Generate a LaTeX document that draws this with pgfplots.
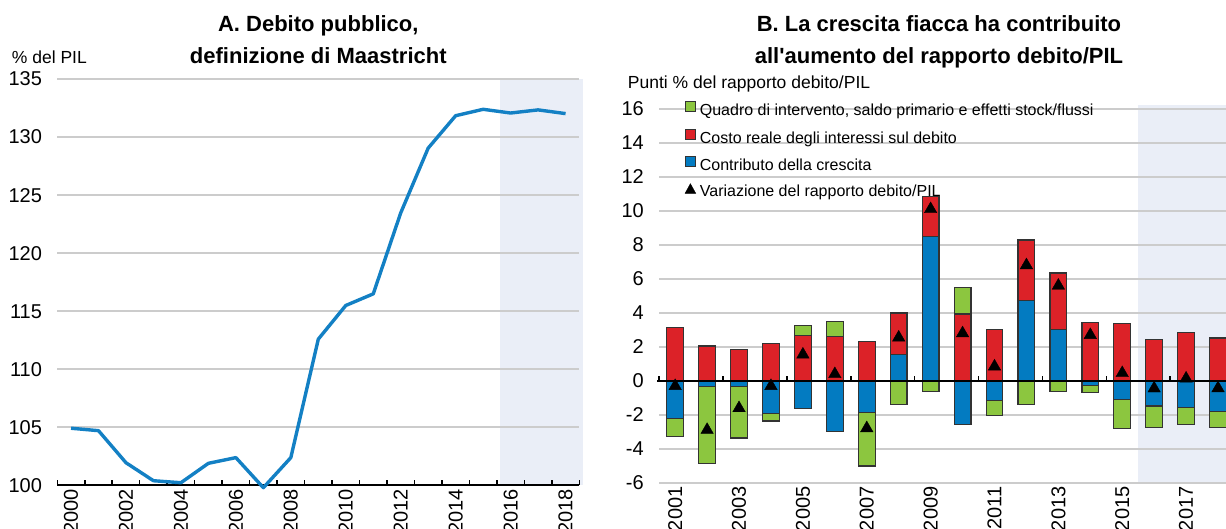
\documentclass[border=0pt]{standalone}
\usepackage{fontspec}
\setmainfont{Liberation Sans}
\newfontfamily\plainsans{Liberation Sans}[Ligatures=TeXOff]
\usepackage{pgfplots}
\usepackage{pgfplotstable}
\pgfplotsset{compat=1.18}
\definecolor{oblue}{HTML}{037BC1}
\definecolor{ored}{HTML}{DC2228}
\definecolor{ogreen}{HTML}{8CC63F}
\definecolor{lineblue}{HTML}{1380C4}
\definecolor{shadec}{HTML}{EAEEF7}
\definecolor{gridc}{HTML}{CCCCCC}
\definecolor{bdr}{HTML}{333333}

\pgfplotstableread{
year debt
2000 104.93
2001 104.72
2002 101.96
2003 100.41
2004 100.24
2005 101.91
2006 102.40
2007 99.81
2008 102.40
2009 112.6
2010 115.5
2011 116.5
2012 123.47
2013 129.05
2014 131.84
2015 132.39
2016 132.07
2017 132.34
2018 132.02
}\dataA

\pgfplotstableread{
year blueP red greenP blueN greenN change
2001 0 3.13 0 -2.22 -1.03 -0.3
2002 0 2.06 0 -0.34 -4.50 -2.88
2003 0 1.85 0 -0.34 -3.01 -1.6
2004 0 2.18 0 -1.92 -0.44 -0.3
2005 0 2.66 0.61 -1.63 0 1.55
2006 0 2.60 0.89 -2.98 0 0.4
2007 0 2.34 0 -1.87 -3.13 -2.78
2008 1.55 2.45 0 0 -1.37 2.55
2009 8.49 2.34 0 0 -0.63 10.1
2010 0 3.93 1.55 -2.58 0 2.8
2011 0 3.02 0 -1.13 -0.89 0.85
2012 4.72 3.57 0 0 -1.37 6.8
2013 3.02 3.33 0 0 -0.63 5.6
2014 0 3.43 0 -0.28 -0.39 2.7
2015 0 3.37 0 -1.08 -1.72 0.46
2016 0 2.45 0 -1.47 -1.27 -0.44
2017 0 2.85 0 -1.55 -1.01 0.14
2018 0 2.53 0 -1.82 -0.92 -0.43
}\dataB

\pgfplotsset{
  legpatch/.style={draw=bdr, line width=1pt, fill=#1,
    legend image code/.code={\draw[##1] (0pt,0pt) rectangle (10pt,10pt);}},
  legtri/.style={black,
    legend image code/.code={\fill[black] (0pt,-0.6pt) -- (10.6pt,-0.6pt) -- (5.3pt,9pt) -- cycle;}},
  ageom/.style={at={(57.3pt,43.5pt)}, anchor=south west, scale only axis,
    width=522pt, height=406.5pt, xmin=1999.5, xmax=2018.5, ymin=100, ymax=135},
  bgeom/.style={at={(659.2pt,46pt)}, anchor=south west, scale only axis,
    width=566.8pt, height=374.2pt, xmin=2000.5, xmax=2018.25, ymin=-6, ymax=16},
}

\begin{document}
\begin{tikzpicture}
\path[use as bounding box] (0pt,0pt) rectangle (1226pt,529pt);
\clip (0pt,0pt) rectangle (1226pt,529pt);

% ---------------- Panel A : shaded forecast band ----------------
\begin{axis}[ageom, hide axis, clip=false]
\fill[shadec] (axis cs:2015.6,100) rectangle (axis cs:2018.62,135);
\end{axis}

% ---------------- Panel A ----------------
\begin{axis}[
  ageom, clip=false,
  axis x line*=bottom, axis y line*=left,
  axis line style={-},
  y axis line style={draw=none},
  x axis line style={black, line width=2pt},
  tick align=inside,
  major tick length=5pt,
  xtick={1999.5,2000.5,2001.5,2002.5,2003.5,2004.5,2005.5,2006.5,2007.5,2008.5,2009.5,2010.5,2011.5,2012.5,2013.5,2014.5,2015.5,2016.5,2017.5,2018.5},
  xticklabels={},
  xtick style={black, line width=1.5pt},
  extra x ticks={2000,2002,2004,2006,2008,2010,2012,2014,2016,2018},
  extra x tick labels={2000,2002,2004,2006,2008,2010,2012,2014,2016,2018},
  extra x tick style={major tick length=0pt},
  xticklabel style={rotate=90, anchor=east, font=\fontsize{20}{20}\selectfont},
  ytick={100,105,110,115,120,125,130,135},
  yticklabels={100,105,110,115,120,125,130,135},
  ytick style={draw=none},
  yticklabel style={font=\fontsize{20}{20}\selectfont, xshift=-11.8pt},
  ymajorgrids, grid style={gridc, line width=2pt},
]
\addplot[lineblue, line width=3.4pt, line join=round] table[x=year,y=debt]{\dataA};
\end{axis}

% ---------------- Panel B : shaded forecast band ----------------
\begin{axis}[bgeom, hide axis, clip=false]
\fill[shadec] (axis cs:2015.5,-6) rectangle (axis cs:2018.3,16.2);
\end{axis}

% ---------------- Panel B : grid, labels, positive stacks ----------------
\begin{axis}[
  bgeom,
  axis line style={draw=none},
  major tick length=0pt,
  xtick={2001,2003,2005,2007,2009,2011,2013,2015,2017},
  xticklabels={2001,2003,2005,2007,2009,2011,2013,2015,2017},
  xticklabel style={rotate=90, anchor=east, font=\fontsize{20}{20}\selectfont},
  ytick={-6,-4,-2,0,2,4,6,8,10,12,14,16},
  yticklabels={-6,-4,-2,0,2,4,6,8,10,12,14,16},
  yticklabel style={font=\fontsize{20}{20}\selectfont, xshift=-11.9pt},
  ymajorgrids, grid style={gridc, line width=2pt},
  ybar stacked, bar width=16.7pt,
]
\addplot[fill=oblue, draw=bdr, line width=1.2pt, forget plot] table[x=year,y=blueP]{\dataB};
\addplot[fill=ored, draw=bdr, line width=1.2pt, forget plot] table[x=year,y=red]{\dataB};
\addplot[fill=ogreen, draw=bdr, line width=1.2pt, forget plot] table[x=year,y=greenP]{\dataB};
\end{axis}

% ---------------- Panel B : negative stacks ----------------
\begin{axis}[
  bgeom, hide axis,
  ybar stacked, bar width=16.7pt,
]
\addplot[fill=oblue, draw=bdr, line width=1.2pt, forget plot] table[x=year,y=blueN]{\dataB};
\addplot[fill=ogreen, draw=bdr, line width=1.2pt, forget plot] table[x=year,y=greenN]{\dataB};
\end{axis}

% ---------------- Panel B : zero line, triangles, legend ----------------
\begin{axis}[
  bgeom, hide axis, clip=false,
  legend style={draw=none, fill=none, at={(axis description cs:0.0448,1.0208)},
    anchor=north west, inner sep=0pt, outer sep=0pt,
    font=\fontsize{16}{19}\selectfont, row sep=9pt,
    nodes={inner sep=0pt, text height=12pt, text depth=4pt},
    /tikz/every odd column/.append style={column sep=4pt}},
  legend cell align=left,
]
\draw[black, line width=2pt] (axis cs:2000.44,0) -- (axis cs:2018.3,0);
\pgfplotsinvokeforeach{2000.5,2002.5,2004.5,2006.5,2008.5,2010.5,2012.5,2014.5,2016.5}{
  \draw[black, line width=1.5pt] (axis cs:#1,0) -- ++(0pt,5pt);
}
\addplot[only marks, mark=triangle*, mark size=7.2pt, black, forget plot] table[x=year,y=change]{\dataB};
\addlegendimage{legpatch=ogreen}
\addlegendentry{Quadro di intervento, saldo primario e effetti stock/flussi}
\addlegendimage{legpatch=ored}
\addlegendentry{Costo reale degli interessi sul debito}
\addlegendimage{legpatch=oblue}
\addlegendentry{Contributo della crescita}
\addlegendimage{legtri}
\addlegendentry{Variazione del rapporto debito/PIL}
\end{axis}

% ---------------- Titles and unit labels ----------------
\node[anchor=base, font=\fontsize{22}{26}\selectfont\bfseries] at (318.3pt,497.3pt) {A. Debito pubblico,};
\node[anchor=base, font=\fontsize{22}{26}\selectfont\bfseries] at (318.3pt,465pt) {definizione di Maastricht};
\node[anchor=base, font=\fontsize{22}{26}\selectfont\bfseries] at (939pt,497.3pt) {B. La crescita fiacca ha contribuito};
\node[anchor=base, font=\fontsize{22}{26}\plainsans\bfseries] at (939pt,465pt) {all'aumento del rapporto debito/PIL};
\node[anchor=base west, inner sep=0pt, font=\fontsize{17.5}{20}\selectfont] at (11.7pt,465.7pt) {\% del PIL};
\node[anchor=base west, inner sep=0pt, font=\fontsize{17.5}{20}\selectfont] at (627.7pt,440pt) {Punti \% del rapporto debito/PIL};
\end{tikzpicture}
\end{document}
